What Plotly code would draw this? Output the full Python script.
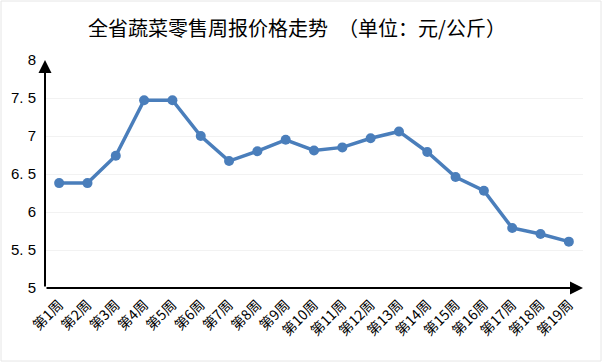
import plotly.graph_objects as go

weeks = [f"第{i}周" for i in range(1, 20)]
prices = [6.38, 6.38, 6.74, 7.47, 7.47, 7.00, 6.67, 6.80, 6.95, 6.81,
          6.85, 6.97, 7.06, 6.79, 6.46, 6.28, 5.79, 5.71, 5.61]
y_ticks = [5, 5.5, 6, 6.5, 7, 7.5, 8]
y_ticktext = ["5", "5.\u00a05", "6", "6.\u00a05", "7", "7.\u00a05", "8"]

W, H = 602, 362
L, R, T, B = 45, 19, 60, 74
pw, ph = W - L - R, H - T - B

fig = go.Figure()
fig.add_trace(go.Scatter(
    x=weeks, y=prices, mode="lines+markers",
    line=dict(color="#4A7EBB", width=3.5),
    marker=dict(color="#4A7EBB", size=10),
    hoverinfo="x+y",
))

font_cjk = "Noto Sans CJK SC"
fig.update_layout(
    width=W, height=H,
    margin=dict(l=L, r=R, t=T, b=B, autoexpand=False),
    paper_bgcolor="white", plot_bgcolor="white",
    showlegend=False,
    title=dict(text="全省蔬菜零售周报价格走势　（单位：元/公斤）",
               x=(297) / W, xanchor="center", y=1 - 29 / H, yanchor="middle",
               font=dict(family=font_cjk, size=20, color="#000000")),
    xaxis=dict(
        type="category", range=[-0.5, 18.5], automargin=False,
        showgrid=False, showline=False, zeroline=False,
        ticks="", tickangle=-45,
        tickfont=dict(family=font_cjk, size=14, color="#000000"),
        ticklabelstandoff=5,
    ),
    yaxis=dict(
        range=[5, 8], tickvals=y_ticks, ticktext=y_ticktext, automargin=False,
        showgrid=True, gridcolor="#f2f2f2", gridwidth=1,
        showline=False, zeroline=False, ticks="",
        tickfont=dict(family="Liberation Sans, Arial", size=15, color="#000000"),
        ticklabelstandoff=8,
    ),
)

# axis arrows
fig.add_annotation(x=1.0, y=0, xref="paper", yref="paper",
                   ax=-pw, ay=0, axref="pixel", ayref="pixel",
                   showarrow=True, arrowhead=2, arrowsize=1.3, arrowwidth=2,
                   arrowcolor="#000000", text="")
fig.add_annotation(x=0, y=1.0, xref="paper", yref="paper",
                   ax=0, ay=ph, axref="pixel", ayref="pixel",
                   showarrow=True, arrowhead=2, arrowsize=1.3, arrowwidth=2,
                   arrowcolor="#000000", text="")

# outer chart border
fig.add_shape(type="rect", xref="paper", yref="paper",
              x0=(1 - L) / pw, x1=(W - 1 - L) / pw,
              y0=-(H - 1 - T - ph) / ph, y1=1 + (T - 1) / ph,
              line=dict(color="#e6e6e6", width=1), layer="below")

fig.write_html("out.html", config={"displayModeBar": False},
               post_script="document.body.style.margin='0';")
